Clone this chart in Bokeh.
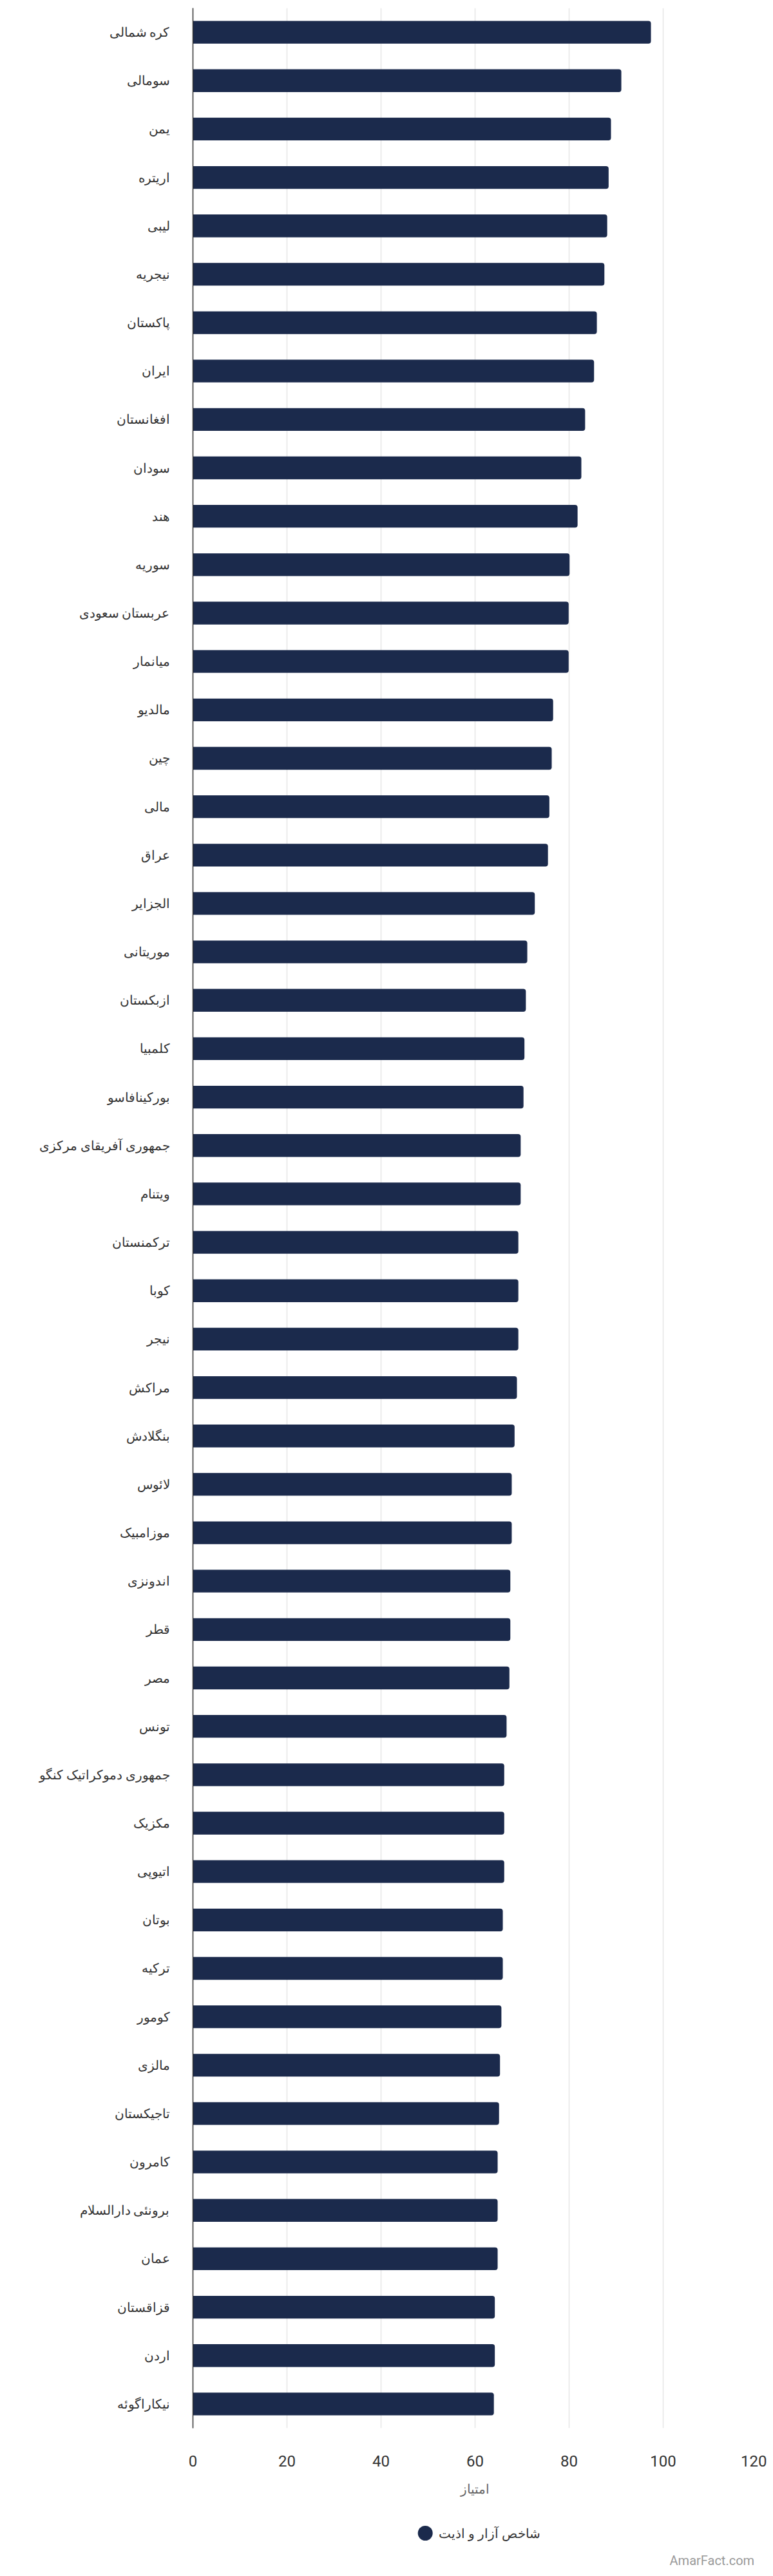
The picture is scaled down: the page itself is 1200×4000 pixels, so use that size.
from bokeh.plotting import figure
from bokeh.layouts import column
from bokeh.models import FactorRange, Range1d, FixedTicker, ColumnDataSource
from bokeh.core.properties import value
from bokeh.embed import file_html
from bokeh.resources import INLINE

countries = ["کره شمالی", "سومالی", "یمن", "اریتره", "لیبی", "نیجریه", "پاکستان",
             "ایران", "افغانستان", "سودان", "هند", "سوریه", "عربستان سعودی",
             "میانمار", "مالدیو", "چین", "مالی", "عراق", "الجزایر", "موریتانی",
             "ازبکستان", "کلمبیا", "بورکینافاسو", "جمهوری آفریقای مرکزی", "ویتنام",
             "ترکمنستان", "کوبا", "نیجر", "مراکش", "بنگلادش", "لائوس", "موزامبیک",
             "اندونزی", "قطر", "مصر", "تونس", "جمهوری دموکراتیک کنگو", "مکزیک",
             "اتیوپی", "بوتان", "ترکیه", "کومور", "مالزی", "تاجیکستان", "کامرون",
             "برونئی دارالسلام", "عمان", "قزاقستان", "اردن", "نیکاراگوئه"]

scores = [97.4, 91.1, 88.9, 88.4, 88.1, 87.5, 85.9, 85.3, 83.4, 82.6,
          81.8, 80.1, 79.9, 79.9, 76.6, 76.3, 75.8, 75.5, 72.7, 71.1,
          70.8, 70.5, 70.3, 69.7, 69.7, 69.2, 69.2, 69.2, 68.9, 68.4,
          67.8, 67.8, 67.5, 67.5, 67.3, 66.7, 66.2, 66.2, 66.2, 65.9,
          65.9, 65.6, 65.3, 65.1, 64.8, 64.8, 64.8, 64.2, 64.2, 64.0]

series_name = "شاخص آزار و اذیت"
x_title = "امتیاز"
x_ticks = [0, 20, 40, 60, 80, 100, 120]
watermark = "AmarFact.com"

BAR = "#1b2a4c"
FONT = "Roboto"

source = ColumnDataSource(dict(country=countries, score=scores))

p = figure(width=1190, height=3890,
           y_range=FactorRange(factors=countries[::-1]),
           x_range=Range1d(0, 120),
           output_backend="svg", toolbar_location=None,
           min_border_left=299, min_border_right=15,
           min_border_top=12, min_border_bottom=120)
p.outline_line_color = None

p.hbar(y="country", right="score", left=0, height=0.47, source=source,
       fill_color=BAR, line_color=None, border_radius=(0, 4, 4, 0))

# axes
p.xaxis.ticker = FixedTicker(ticks=x_ticks)
p.xaxis.axis_line_color = None
p.xaxis.major_tick_line_color = None
p.xaxis.minor_tick_line_color = None
p.xaxis.major_label_standoff = 36
p.xaxis.major_label_text_font = FONT
p.xaxis.major_label_text_font_size = "24px"
p.xaxis.major_label_text_color = "#333333"
p.xaxis.axis_label = x_title
p.xaxis.axis_label_text_font = FONT
p.xaxis.axis_label_text_font_size = "20px"
p.xaxis.axis_label_text_font_style = "normal"
p.xaxis.axis_label_text_color = "#666666"
p.xaxis.axis_label_standoff = 20

p.yaxis.axis_line_color = "#333333"
p.yaxis.axis_line_width = 1.5
p.yaxis.major_tick_line_color = None
p.yaxis.minor_tick_line_color = None
p.yaxis.major_label_standoff = 30
p.yaxis.major_label_text_font = FONT
p.yaxis.major_label_text_font_size = "20px"
p.yaxis.major_label_text_color = "#333333"

p.ygrid.grid_line_color = None
p.xgrid.grid_line_color = "#e6e6e6"
p.xgrid.grid_line_width = 1.5

# footer: legend + watermark
f = figure(width=1190, height=100, x_range=Range1d(0, 1190), y_range=Range1d(0, 100),
           output_backend="svg", toolbar_location=None,
           x_axis_location=None, y_axis_location=None, min_border=0)
f.outline_line_color = None
f.xgrid.grid_line_color = None
f.ygrid.grid_line_color = None

f.scatter(x=[490], y=[57], marker="circle", size=23, fill_color=BAR, line_color=None)
f.text(x=[518], y=[57], text=[series_name], text_align="left", text_baseline="middle",
       text_font=value(FONT), text_font_size="20px", text_color="#333333")
f.text(x=[1184], y=[15], text=[watermark], text_align="right", text_baseline="middle",
       text_font=value(FONT), text_font_size="20px", text_color="#999999")

layout = column(p, f, spacing=0)
open("out.html", "w").write(file_html(layout, INLINE))
